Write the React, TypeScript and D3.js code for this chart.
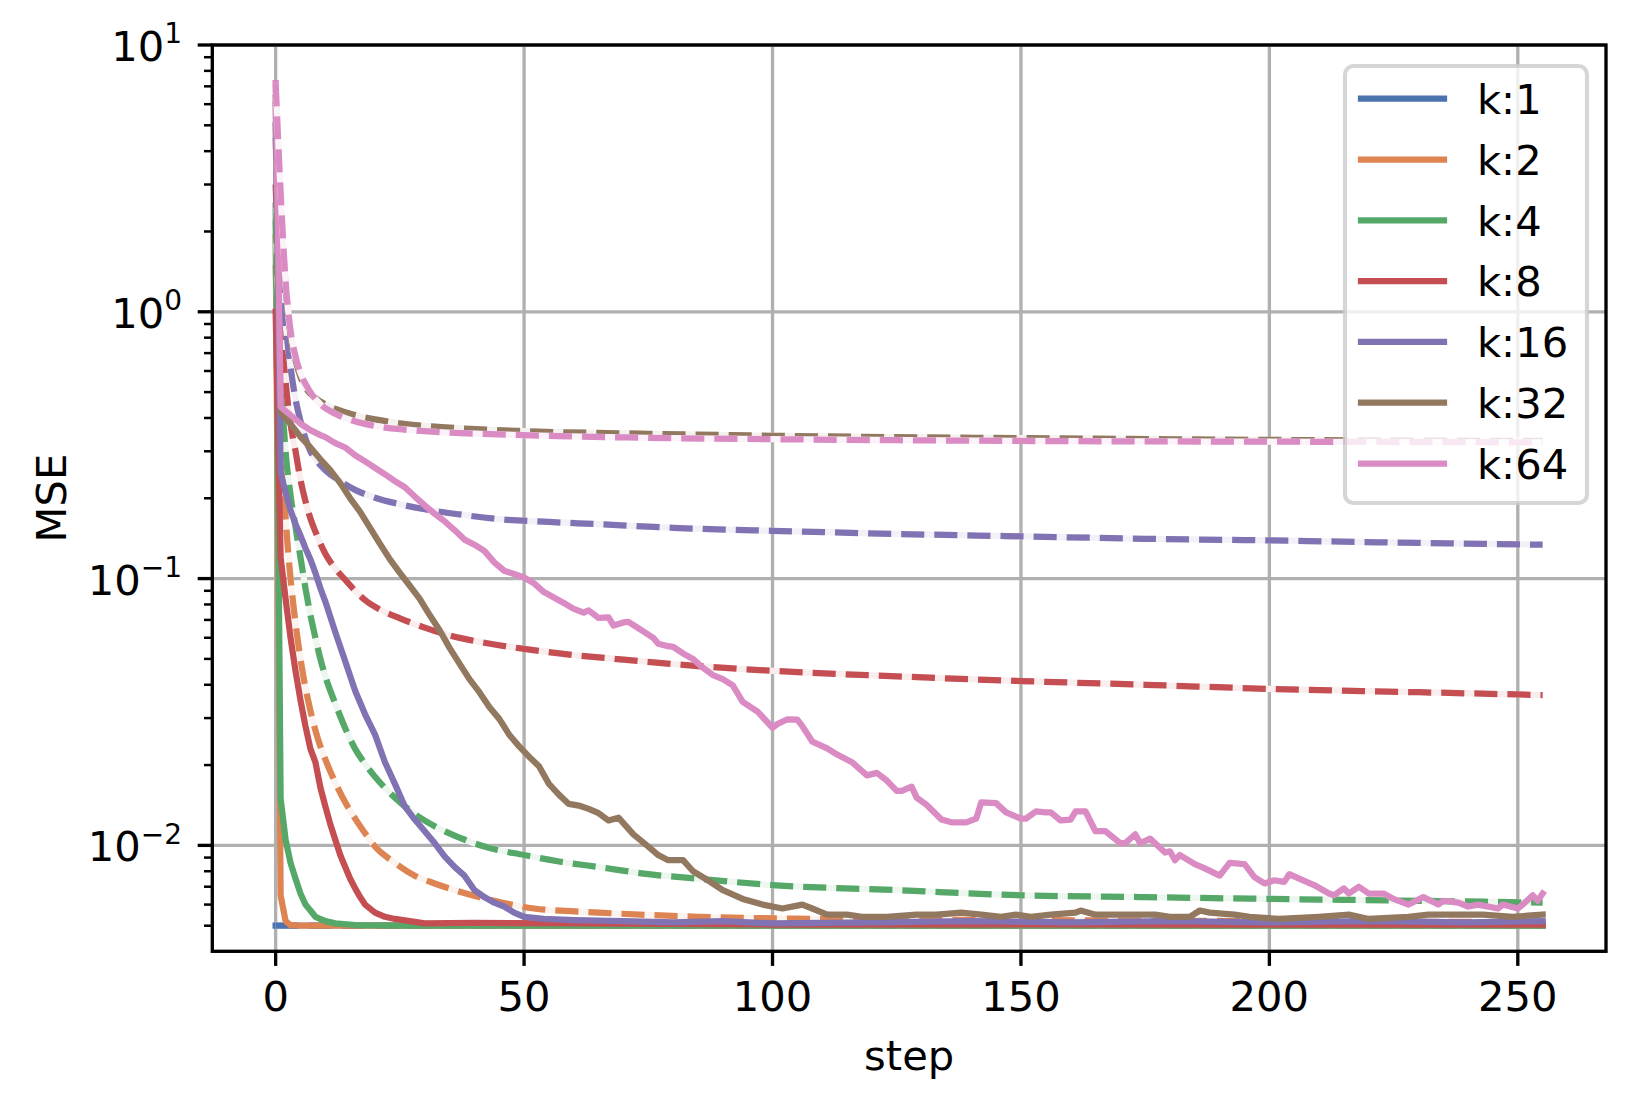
import React, { useEffect, useRef } from "react";
import * as d3 from "d3";

// --- data (step, MSE) ---
const kLabels = ["k:1", "k:2", "k:4", "k:8", "k:16", "k:32", "k:64"];

const k1Solid = [[0, 0.005], [255, 0.005]];
const k1Dashed = [[0, 0.005], [255, 0.005]];

const k2Solid = [[0, 1.9], [1, 0.0065], [2, 0.0052], [3, 0.00502], [5, 0.005], [255, 0.005]];
const k2Dashed = [
  [0, 1.5], [1, 0.38], [2, 0.17], [3, 0.1], [4, 0.068], [5, 0.05], [6, 0.039], [7, 0.032],
  [8, 0.027], [9, 0.0235], [10, 0.021], [12, 0.0172], [14, 0.0145], [16, 0.0126], [18, 0.0111],
  [20, 0.0099], [24, 0.0086], [28, 0.0077], [32, 0.0072], [36, 0.0068], [44, 0.0062], [52, 0.0058],
  [65, 0.0056], [85, 0.0054], [110, 0.0053], [150, 0.00525], [200, 0.0052], [255, 0.00515],
];

const k4Solid = [
  [0, 2.5], [1, 0.015], [2, 0.0105], [3, 0.0086], [4, 0.0075], [5, 0.0066], [6, 0.006],
  [7, 0.0057], [8, 0.0054], [10, 0.0052], [12, 0.0051], [16, 0.00503], [25, 0.005], [255, 0.005],
];
const k4Dashed = [
  [0, 2.2], [1, 0.6], [2, 0.3], [3, 0.205], [4, 0.156], [5, 0.12], [6, 0.092], [7, 0.073],
  [8, 0.06], [9, 0.05], [10, 0.043], [12, 0.034], [14, 0.0275], [16, 0.023], [18, 0.0202],
  [21, 0.0172], [24, 0.0151], [28, 0.0131], [32, 0.0118], [37, 0.0107], [42, 0.0099], [50, 0.0092],
  [57, 0.0087], [65, 0.0083], [75, 0.0078], [85, 0.0075], [100, 0.0071], [125, 0.0068],
  [150, 0.0065], [175, 0.0064], [200, 0.0063], [230, 0.0062], [255, 0.0061],
];

const k8Solid = [
  [0, 1.0], [1, 0.12], [2, 0.084], [3, 0.06], [4, 0.045], [5, 0.035], [6, 0.028], [7, 0.023],
  [8, 0.0205], [9, 0.0165], [10, 0.014], [11, 0.012], [12, 0.0105], [13, 0.0092], [14, 0.0083],
  [15, 0.0075], [16, 0.0069], [17, 0.0064], [18, 0.006], [20, 0.0056], [22, 0.0054], [24, 0.0053],
  [27, 0.0052], [30, 0.0051], [40, 0.00512], [60, 0.0051], [100, 0.00505], [150, 0.00506],
  [200, 0.00505], [255, 0.00505],
];
const k8Dashed = [
  [0, 3.0], [1, 1.0], [2, 0.55], [3, 0.38], [4, 0.3], [5, 0.235], [6, 0.195], [7, 0.168],
  [8, 0.15], [10, 0.124], [12, 0.109], [14, 0.099], [16, 0.09], [18, 0.083], [21, 0.0765],
  [25, 0.071], [30, 0.0655], [35, 0.0612], [42, 0.0575], [50, 0.0545], [60, 0.0517], [70, 0.0497],
  [85, 0.047], [100, 0.0451], [125, 0.043], [150, 0.0413], [175, 0.04], [200, 0.0386],
  [230, 0.0375], [255, 0.0366],
];

const k16Solid = [
  [0, 5.0], [1, 0.25], [2, 0.21], [3, 0.18], [4, 0.16], [5, 0.145], [6, 0.13], [7, 0.118],
  [8, 0.105], [9, 0.092], [10, 0.082], [12, 0.063], [14, 0.049], [16, 0.038], [18, 0.031],
  [20, 0.026], [22, 0.0205], [24, 0.017], [26, 0.014], [28, 0.0125], [30, 0.0113], [32, 0.0102],
  [34, 0.0091], [36, 0.0083], [38, 0.0077], [40, 0.0068], [42, 0.0064], [44, 0.0061],
  [46, 0.0059], [48, 0.0056], [50, 0.0054], [54, 0.0053], [60, 0.00525], [70, 0.0052],
  [80, 0.00515], [90, 0.0052], [100, 0.0051], [120, 0.00515], [140, 0.0052], [160, 0.00515],
  [180, 0.0052], [200, 0.00515], [220, 0.0052], [240, 0.00515], [255, 0.0052],
];
const k16Dashed = [
  [0, 4.5], [1, 1.5], [2, 0.9], [3, 0.62], [4, 0.47], [5, 0.39], [6, 0.335], [7, 0.3],
  [8, 0.28], [10, 0.255], [13, 0.232], [16, 0.215], [20, 0.201], [25, 0.19], [30, 0.182],
  [37, 0.174], [45, 0.167], [55, 0.163], [65, 0.16], [80, 0.155], [100, 0.151], [125, 0.147],
  [150, 0.144], [175, 0.141], [200, 0.139], [230, 0.136], [255, 0.134],
];

const k32Solid = [
  [0, 6.0], [1, 0.42], [3, 0.38], [5, 0.34], [7, 0.31], [9, 0.28], [11, 0.255], [13, 0.228],
  [15, 0.2], [17, 0.178], [19, 0.155], [21, 0.135], [23, 0.118], [25, 0.105], [27, 0.094],
  [29, 0.084], [31, 0.073], [33, 0.064], [35, 0.055], [37, 0.048], [39, 0.042], [41, 0.0375],
  [43, 0.033], [45, 0.0298], [47, 0.026], [49, 0.0235], [51, 0.0215], [53, 0.0198], [55, 0.017],
  [57, 0.0155], [59, 0.0143], [61, 0.0141], [63, 0.0137], [65, 0.0132], [67, 0.0124],
  [69, 0.0127], [72, 0.011], [75, 0.0099], [77, 0.0092], [79, 0.0088], [82, 0.0088], [84, 0.008],
  [87, 0.0074], [90, 0.0068], [94, 0.0063], [98, 0.006], [102, 0.0058], [106, 0.006],
  [108, 0.0058], [111, 0.0055], [115, 0.0055], [118, 0.0054], [123, 0.0054], [129, 0.0055],
  [133, 0.0055], [138, 0.0056], [142, 0.0055], [146, 0.0054], [149, 0.0055], [152, 0.0054],
  [156, 0.0055], [161, 0.0056], [162, 0.0057], [165, 0.0055], [170, 0.0055], [177, 0.0055],
  [180, 0.0054], [184, 0.0054], [186, 0.0057], [188, 0.0056], [193, 0.0055], [196, 0.0054],
  [202, 0.0053], [210, 0.0054], [216, 0.0055], [220, 0.0053], [228, 0.0054], [232, 0.0055],
  [239, 0.0055], [243, 0.0055], [249, 0.0054], [255, 0.0055],
];
const k32Dashed = [
  [0, 6.5], [1, 2.5], [2, 1.25], [3, 0.82], [4, 0.66], [5, 0.57], [6, 0.52], [8, 0.475],
  [10, 0.45], [14, 0.42], [20, 0.395], [25, 0.382], [35, 0.368], [50, 0.357], [75, 0.349],
  [100, 0.343], [150, 0.336], [200, 0.331], [255, 0.328],
];

const k64Solid = [
  [0, 7.2], [1, 0.44], [3, 0.41], [5, 0.381], [7, 0.36], [9, 0.345], [10, 0.339], [12, 0.322],
  [14, 0.31], [16, 0.29], [18, 0.275], [20, 0.26], [22, 0.246], [24, 0.232], [26, 0.22],
  [28, 0.203], [30, 0.188], [32, 0.175], [34, 0.164], [36, 0.152], [38, 0.14], [40, 0.134],
  [42, 0.127], [44, 0.115], [46, 0.107], [48, 0.104], [50, 0.101], [52, 0.096], [54, 0.089],
  [56, 0.085], [58, 0.081], [60, 0.077], [62, 0.0745], [63, 0.076], [65, 0.0712], [67, 0.0715],
  [68, 0.0667], [70, 0.0685], [71, 0.0688], [74, 0.0634], [76, 0.06], [77, 0.057], [79, 0.0558],
  [80, 0.0555], [82, 0.0524], [84, 0.05], [86, 0.0463], [88, 0.0435], [90, 0.042], [92, 0.0398],
  [94, 0.0345], [97, 0.0317], [100, 0.0276], [101, 0.0285], [103, 0.0297], [105, 0.0296],
  [106, 0.028], [108, 0.0245], [111, 0.0231], [113, 0.0219], [116, 0.0205], [119, 0.0183],
  [121, 0.0187], [123, 0.0175], [125, 0.016], [126, 0.016], [128, 0.0166], [129, 0.0151],
  [131, 0.0142], [134, 0.0125], [136, 0.0122], [139, 0.0122], [141, 0.0126], [142, 0.0145],
  [145, 0.0144], [147, 0.0133], [150, 0.0126], [151, 0.0126], [153, 0.0134], [155, 0.0133],
  [156, 0.0133], [158, 0.0124], [160, 0.0125], [161, 0.0134], [163, 0.0134], [165, 0.0113],
  [167, 0.0113], [170, 0.0102], [171, 0.0102], [173, 0.011], [174, 0.0102], [176, 0.0106],
  [179, 0.0094], [180, 0.0095], [181, 0.0088], [182, 0.0092], [185, 0.0085], [187, 0.0082],
  [190, 0.0077], [192, 0.0086], [195, 0.0085], [197, 0.0076], [199, 0.0072], [201, 0.0074],
  [203, 0.0073], [204, 0.0078], [206, 0.0075], [209, 0.0071], [212, 0.0066], [213, 0.0065],
  [215, 0.0069], [216, 0.0066], [218, 0.007], [220, 0.0066], [223, 0.0066], [225, 0.0063],
  [228, 0.006], [231, 0.0064], [234, 0.006], [235, 0.0062], [238, 0.0061], [240, 0.0059],
  [242, 0.006], [246, 0.0058], [247, 0.006], [250, 0.0058], [251, 0.006], [253, 0.0065],
  [254, 0.0062], [255, 0.0066],
];
const k64Dashed = [
  [0, 7.2], [1, 2.8], [2, 1.3], [3, 0.85], [4, 0.68], [5, 0.59], [7, 0.5], [9, 0.45],
  [12, 0.415], [18, 0.38], [30, 0.357], [50, 0.345], [57, 0.342], [75, 0.337], [100, 0.333],
  [150, 0.328], [200, 0.326], [255, 0.324],
];

const solidSeries = [k1Solid, k2Solid, k4Solid, k8Solid, k16Solid, k32Solid, k64Solid];
const dashedSeries = [k1Dashed, k2Dashed, k4Dashed, k8Dashed, k16Dashed, k32Dashed, k64Dashed];

const xTicks = [0, 50, 100, 150, 200, 250];
const yTicks = [0.01, 0.1, 1, 10];
const yTickExp = ["\u22122", "\u22121", "0", "1"];

const colors = ["#4c72b0", "#dd8452", "#55a868", "#c44e52", "#8172b3", "#937860", "#da8bc3"];

export default function App() {
  const svgRef = useRef(null);

  useEffect(() => {
    const width = 1636;
    const height = 1107;
    const left = 212.3;
    const right = 1606;
    const top = 45;
    const bottom = 951.3;
    const font = "'DejaVu Sans', sans-serif";
    const fs = 41.67;
    const lw = 6.25;

    const svg = d3.select(svgRef.current).attr("width", width).attr("height", height);
    svg.selectAll("*").remove();

    const x = d3.scaleLinear().domain([-12.75, 267.75]).range([left, right]);
    const y = d3.scaleLog().domain([Math.pow(10, -2.397), 10]).range([bottom, top]);

    svg.append("rect").attr("width", width).attr("height", height).attr("fill", "white");

    svg
      .append("defs")
      .append("clipPath")
      .attr("id", "plot-clip")
      .append("rect")
      .attr("x", left)
      .attr("y", top)
      .attr("width", right - left)
      .attr("height", bottom - top);

    // grid
    const grid = svg.append("g").attr("stroke", "#b0b0b0").attr("stroke-width", 3.33);
    xTicks.forEach((t) => {
      grid.append("line").attr("x1", x(t)).attr("x2", x(t)).attr("y1", top).attr("y2", bottom);
    });
    yTicks.forEach((t) => {
      grid.append("line").attr("x1", left).attr("x2", right).attr("y1", y(t)).attr("y2", y(t));
    });

    // lines
    const plot = svg.append("g").attr("clip-path", "url(#plot-clip)");
    const solidLine = d3
      .line()
      .x((d) => x(d[0]))
      .y((d) => y(d[1]));
    const smoothLine = d3
      .line()
      .x((d) => x(d[0]))
      .y((d) => y(d[1]))
      .curve(d3.curveMonotoneX);

    kLabels.forEach((k, i) => {
      plot
        .append("path")
        .attr("d", solidLine(solidSeries[i]))
        .attr("fill", "none")
        .attr("stroke", colors[i])
        .attr("stroke-width", lw)
        .attr("stroke-linecap", "square")
        .attr("stroke-linejoin", "round");

      const tint = d3.interpolateRgb(colors[i], "#ffffff")(0.9);
      plot
        .append("path")
        .attr("d", smoothLine(dashedSeries[i]))
        .attr("fill", "none")
        .attr("stroke", tint)
        .attr("stroke-width", lw)
        .attr("stroke-linejoin", "round");
      plot
        .append("path")
        .attr("d", smoothLine(dashedSeries[i]))
        .attr("fill", "none")
        .attr("stroke", colors[i])
        .attr("stroke-width", lw)
        .attr("stroke-dasharray", "23.1 10")
        .attr("stroke-linecap", "butt")
        .attr("stroke-linejoin", "round");
    });

    // spines
    svg
      .append("rect")
      .attr("x", left)
      .attr("y", top)
      .attr("width", right - left)
      .attr("height", bottom - top)
      .attr("fill", "none")
      .attr("stroke", "black")
      .attr("stroke-width", 3.33)
      .attr("stroke-linejoin", "miter");

    // x ticks
    xTicks.forEach((t) => {
      svg
        .append("line")
        .attr("x1", x(t))
        .attr("x2", x(t))
        .attr("y1", bottom)
        .attr("y2", bottom + 14.6)
        .attr("stroke", "black")
        .attr("stroke-width", 3.33);
      svg
        .append("text")
        .attr("x", x(t))
        .attr("y", 1010.7)
        .attr("text-anchor", "middle")
        .attr("font-family", font)
        .attr("font-size", fs)
        .text(t);
    });

    // y minor ticks
    const [yMin, yMax] = y.domain();
    for (let d = -3; d <= 0; d++) {
      for (let m = 2; m <= 9; m++) {
        const v = m * Math.pow(10, d);
        if (v < yMin * 0.999 || v > yMax) continue;
        svg
          .append("line")
          .attr("x1", left)
          .attr("x2", left - 8.33)
          .attr("y1", y(v))
          .attr("y2", y(v))
          .attr("stroke", "black")
          .attr("stroke-width", 2.5);
      }
    }

    // y major ticks
    yTicks.forEach((t, i) => {
      svg
        .append("line")
        .attr("x1", left)
        .attr("x2", left - 14.6)
        .attr("y1", y(t))
        .attr("y2", y(t))
        .attr("stroke", "black")
        .attr("stroke-width", 3.33);
      const label = svg
        .append("text")
        .attr("x", 182)
        .attr("y", y(t) + 16)
        .attr("text-anchor", "end")
        .attr("font-family", font)
        .attr("font-size", fs);
      label.append("tspan").text("10");
      label
        .append("tspan")
        .attr("dy", -17.7)
        .attr("font-size", 28)
        .text(yTickExp[i]);
    });

    // axis labels
    svg
      .append("text")
      .attr("x", (left + right) / 2)
      .attr("y", 1070)
      .attr("text-anchor", "middle")
      .attr("font-family", font)
      .attr("font-size", fs)
      .text("step");
    svg
      .append("text")
      .attr("transform", `translate(66, ${(top + bottom) / 2}) rotate(-90)`)
      .attr("text-anchor", "middle")
      .attr("font-family", font)
      .attr("font-size", fs)
      .text("MSE");

    // legend
    const legend = svg.append("g");
    legend
      .append("rect")
      .attr("x", 1345)
      .attr("y", 66)
      .attr("width", 242)
      .attr("height", 437)
      .attr("rx", 8.3)
      .attr("fill", "white")
      .attr("fill-opacity", 0.8)
      .attr("stroke", "#cccccc")
      .attr("stroke-opacity", 0.8)
      .attr("stroke-width", 4.17);
    kLabels.forEach((k, i) => {
      const ry = 98.7 + i * 60.8;
      legend
        .append("line")
        .attr("x1", 1361)
        .attr("x2", 1444)
        .attr("y1", ry)
        .attr("y2", ry)
        .attr("stroke", colors[i])
        .attr("stroke-width", lw)
        .attr("stroke-linecap", "square");
      legend
        .append("text")
        .attr("x", 1477)
        .attr("y", ry + 15.3)
        .attr("font-family", font)
        .attr("font-size", fs)
        .text(k);
    });
  }, []);

  return (
    <div style={{ position: "absolute", left: 0, top: 0 }}>
      <svg ref={svgRef} style={{ display: "block" }}></svg>
    </div>
  );
}
